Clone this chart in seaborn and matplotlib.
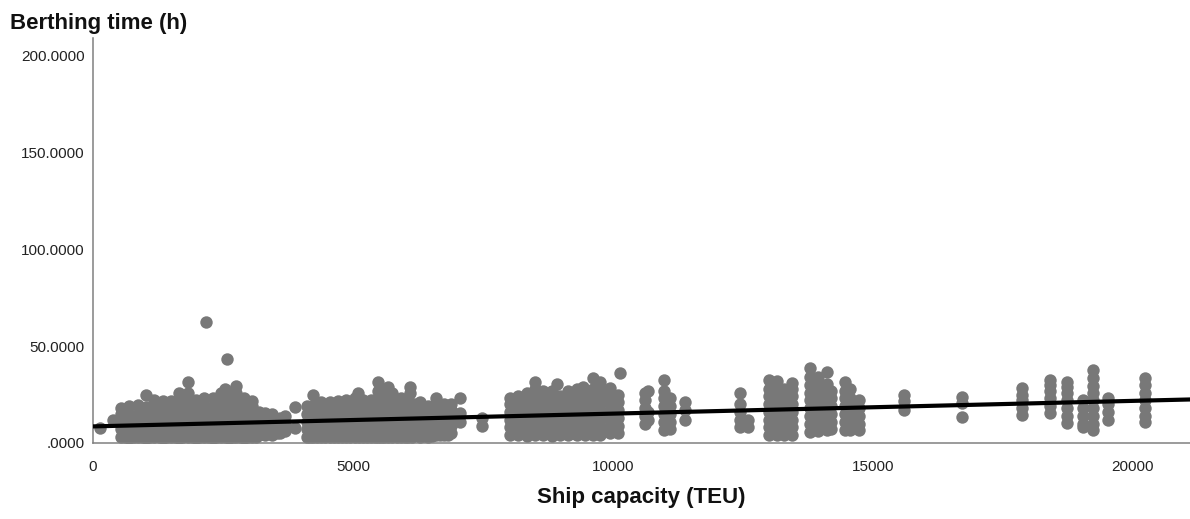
import matplotlib
matplotlib.use("Agg")
import matplotlib.pyplot as plt
from matplotlib.ticker import FuncFormatter
import pandas as pd
import seaborn as sns

# ---- data (ship capacity in TEU, berthing time in h) ----
# visible columns of points (tops / outliers / column extents)
capacity = [
    135,
    385,
    540, 540, 540, 540, 540,
    700, 700, 700, 700, 700,
    860, 860, 860, 860, 860,
    1020, 1020, 1020, 1020, 1020, 1020,
    1180, 1180, 1180, 1180, 1180, 1180,
    1340, 1340, 1340, 1340, 1340, 1340,
    1500, 1500, 1500, 1500, 1500, 1500,
    1660, 1660, 1660, 1660, 1660, 1660, 1660,
    1820, 1820, 1820, 1820, 1820, 1820, 1820, 1820,
    1980, 1980, 1980, 1980, 1980, 1980,
    2140, 2140, 2140, 2140, 2140, 2140,
    2170,
    2300, 2300, 2300, 2300, 2300, 2300,
    2460, 2460, 2460, 2460, 2460, 2460, 2460,
    2540,
    2580,
    2620, 2620, 2620, 2620, 2620, 2620, 2620,
    2750, 2750, 2750, 2750, 2750, 2750, 2750, 2750,
    2900, 2900, 2900, 2900, 2900, 2900,
    3060, 3060, 3060, 3060, 3060, 3060,
    3190, 3190, 3190, 3190,
    3300, 3300, 3300, 3300,
    3450, 3450, 3450, 3450,
    3600, 3600, 3600,
    3700, 3700, 3700,
    3880, 3880,
    4120, 4120, 4120, 4120, 4120,
    4230, 4230, 4230, 4230, 4230, 4230,
    4390, 4390, 4390, 4390, 4390, 4390,
    4550, 4550, 4550, 4550, 4550, 4550,
    4710, 4710, 4710, 4710, 4710, 4710,
    4870, 4870, 4870, 4870, 4870, 4870,
    5030, 5030, 5030, 5030, 5030, 5030,
    5100,
    5190, 5190, 5190, 5190, 5190, 5190,
    5350, 5350, 5350, 5350, 5350, 5350,
    5480, 5480, 5480, 5480, 5480, 5480, 5480, 5480,
    5600, 5600, 5600, 5600, 5600, 5600,
    5670,
    5760, 5760, 5760, 5760, 5760, 5760, 5760,
    5920, 5920, 5920, 5920, 5920, 5920,
    6060, 6060, 6060, 6060, 6060, 6060,
    6100, 6100,
    6170, 6170, 6170, 6170, 6170,
    6280, 6280, 6280, 6280, 6280, 6280,
    6440, 6440, 6440, 6440, 6440,
    6600, 6600, 6600, 6600, 6600, 6600,
    6760, 6760, 6760, 6760, 6760,
    6880, 6880, 6880, 6880, 6880,
    7060, 7060, 7060,
    7480, 7480,
    8020, 8020, 8020, 8020, 8020, 8020,
    8180, 8180, 8180, 8180, 8180, 8180,
    8340, 8340, 8340, 8340, 8340, 8340, 8340,
    8500, 8500, 8500, 8500, 8500, 8500, 8500, 8500,
    8660, 8660, 8660, 8660, 8660, 8660, 8660,
    8820, 8820, 8820, 8820, 8820, 8820, 8820,
    8920,
    8980, 8980, 8980, 8980, 8980, 8980,
    9140, 9140, 9140, 9140, 9140, 9140, 9140,
    9300, 9300, 9300, 9300, 9300, 9300, 9300,
    9420,
    9460, 9460, 9460, 9460, 9460, 9460,
    9620, 9620, 9620, 9620, 9620, 9620, 9620, 9620,
    9760, 9760, 9760, 9760, 9760, 9760, 9760, 9760,
    9950, 9950, 9950, 9950, 9950, 9950, 9950,
    10100, 10100, 10100, 10100, 10100, 10100,
    10130,
    10620, 10620, 10620, 10620, 10620,
    10680, 10680, 10680,
    10980, 10980, 10980, 10980, 10980, 10980, 10980,
    11100, 11100, 11100, 11100, 11100,
    11380, 11380, 11380,
    12440, 12440, 12440, 12440, 12440,
    12600, 12600,
    13000, 13000, 13000, 13000, 13000, 13000, 13000, 13000,
    13150, 13150, 13150, 13150, 13150, 13150, 13150, 13150,
    13300, 13300, 13300, 13300, 13300, 13300, 13300,
    13450, 13450, 13450, 13450, 13450, 13450, 13450, 13450,
    13800, 13800, 13800, 13800, 13800, 13800, 13800, 13800, 13800,
    13950, 13950, 13950, 13950, 13950, 13950, 13950, 13950,
    14110, 14110, 14110, 14110, 14110, 14110, 14110, 14110,
    14200, 14200, 14200, 14200, 14200, 14200,
    14460, 14460, 14460, 14460, 14460, 14460, 14460,
    14560, 14560, 14560, 14560, 14560, 14560,
    14740, 14740, 14740, 14740, 14740,
    15600, 15600, 15600,
    16710, 16710, 16710,
    17860, 17860, 17860, 17860, 17860,
    18400, 18400, 18400, 18400, 18400, 18400,
    18730, 18730, 18730, 18730, 18730, 18730, 18730,
    19040, 19040, 19040, 19040, 19040,
    19230, 19230, 19230, 19230, 19230, 19230, 19230, 19230, 19230,
    19520, 19520, 19520, 19520,
    20230, 20230, 20230, 20230, 20230, 20230, 20230,
]

berthing_time = [
    7.5,
    12,
    3, 7, 11, 15, 18,
    2.5, 6.5, 10.5, 14.5, 19,
    3, 7, 11, 15, 19.6,
    2.5, 6.5, 10.5, 14.5, 18.5, 24.7,
    3, 7, 11, 15, 19, 22,
    2.5, 6.5, 10.5, 14.5, 18.5, 21.6,
    3, 7, 11, 15, 19, 21.6,
    2.5, 6.5, 10.5, 14.5, 18.5, 22, 25.8,
    3, 7, 11, 15, 19, 22, 26, 31.4,
    2.5, 6.5, 10.5, 14.5, 18.5, 22,
    3, 7, 11, 15, 19, 23,
    62.4,
    2.5, 6.5, 10.5, 14.5, 18.5, 23,
    3, 7, 11, 15, 19, 22, 25.8,
    28,
    43.3,
    2.5, 6.5, 10.5, 14.5, 18.5, 22.5, 25.8,
    3, 7, 11, 15, 19, 23, 26, 29.4,
    2.5, 6.5, 10.5, 14.5, 18.5, 23,
    3, 7, 11, 15, 19, 21.6,
    4, 8, 12, 16,
    4, 8, 12, 15.5,
    4, 8, 12, 15,
    5, 9, 13,
    6, 10, 14,
    7.7, 18.6,
    3, 7, 11, 15, 19,
    3, 7, 11, 15, 19, 24.7,
    3, 7, 11, 15, 19, 21,
    3, 7, 11, 15, 19, 21,
    3, 7, 11, 15, 19, 21.5,
    3, 7, 11, 15, 19, 22,
    3, 7, 11, 15, 19, 23,
    26,
    3, 7, 11, 15, 19, 22,
    3, 7, 11, 15, 19, 22,
    3, 7, 11, 15, 19, 23, 27, 31.4,
    3, 7, 11, 15, 19, 24,
    29,
    3, 7, 11, 15, 19, 23, 25.8,
    3, 7, 11, 15, 19, 23,
    3, 7, 11, 15, 19, 22,
    26, 29,
    4, 8, 12, 16, 20,
    3, 7, 11, 15, 19, 21,
    3, 7, 11, 15, 19,
    4, 8, 12, 16, 20, 23,
    4, 8, 12, 16, 20,
    5, 9, 13, 17, 20,
    11, 15.5, 23,
    9, 13,
    4, 8, 12, 16, 20, 23,
    4, 8, 12, 16, 20, 24,
    3.5, 7.5, 11.5, 15.5, 19.5, 23.5, 26,
    4, 8, 12, 16, 20, 24, 28, 31.4,
    4, 8, 12, 16, 20, 24, 27,
    3.5, 7.5, 11.5, 15.5, 19.5, 23.5, 27,
    30.7,
    4, 8, 12, 16, 20, 24,
    4, 8, 12, 16, 20, 24, 27,
    4, 8, 12, 16, 20, 24, 28,
    29,
    4, 8, 12, 16, 20, 24,
    4, 8, 12, 16, 20, 24, 28, 33.5,
    4, 8, 12, 16, 20, 24, 28, 31.4,
    5, 9, 13, 17, 21, 25, 28.4,
    5, 9, 13, 17, 21, 25,
    36,
    10, 14, 18, 22, 26,
    12, 16, 27,
    6.7, 11, 15, 19, 23, 27, 32.5,
    7, 11, 15, 19, 23,
    12, 17, 21,
    8, 12, 16, 20, 25.8,
    8, 12,
    4, 8, 12, 16, 20, 24, 28, 32.5,
    4, 8, 12, 16, 20, 24, 28, 32,
    4, 8, 12, 16, 20, 24, 28,
    4, 8, 12, 16, 20, 24, 28, 31,
    5.7, 10, 14, 18, 22, 26, 30, 34, 38.7,
    6, 10, 14, 18, 22, 26, 30, 34,
    6.7, 10.7, 14.7, 18.7, 22.7, 26.7, 30.7, 36.6,
    7, 11, 15, 19, 23, 27,
    6.7, 11, 15, 19, 23, 27, 31.4,
    6.7, 11, 15, 19, 23, 28,
    6.7, 10, 14, 18, 22,
    17, 21.6, 24.7,
    13.4, 20.6, 23.7,
    14.4, 18, 22, 25, 28.4,
    15.5, 19, 23, 27, 30, 32.5,
    10.3, 14, 18, 22, 26, 29, 31.4,
    8.2, 10, 14, 18, 22,
    6.7, 10, 14, 18, 22, 26, 29.4, 33.5, 37.6,
    12, 16, 20, 23,
    11, 14, 18, 22, 26, 30, 33.5,
]

# dense low-lying ships hidden inside the solid grey blocks (short stays)
dense_capacity = [
    620, 620, 620, 620, 780, 780, 780, 780, 940, 940, 940, 940,
    1100, 1100, 1100, 1100, 1260, 1260, 1260, 1260, 1420, 1420, 1420, 1420,
    1580, 1580, 1580, 1580, 1740, 1740, 1740, 1740, 1900, 1900, 1900, 1900,
    2060, 2060, 2060, 2060, 2220, 2220, 2220, 2220, 2380, 2380, 2380, 2380,
    2540, 2540, 2540, 2540, 2700, 2700, 2700, 2700, 2820, 2820, 2820, 2820,
    2980, 2980, 2980, 2980, 3130, 3130, 3130, 3130,
    3380, 3380, 3530, 3530,
    4180, 4180, 4180, 4180, 4310, 4310, 4310, 4310, 4470, 4470, 4470, 4470,
    4630, 4630, 4630, 4630, 4790, 4790, 4790, 4790, 4950, 4950, 4950, 4950,
    5110, 5110, 5110, 5110, 5270, 5270, 5270, 5270, 5420, 5420, 5420, 5420,
    5540, 5540, 5540, 5540, 5680, 5680, 5680, 5680, 5840, 5840, 5840, 5840,
    6000, 6000, 6000, 6000, 6130, 6130, 6130, 6130,
    6360, 6360, 6360, 6360, 6520, 6520, 6520, 6520,
    6680, 6680, 6680, 6680, 6820, 6820, 6820, 6820,
    8100, 8100, 8260, 8260, 8420, 8420, 8580, 8580, 8740, 8740, 8900, 8900,
    9060, 9060, 9220, 9220, 9380, 9380, 9540, 9540, 9690, 9690,
]
dense_berthing = [
    3, 4.5, 6.5, 9, 3, 4.5, 6.5, 9, 3, 4.5, 6.5, 9,
    3, 4.5, 6.5, 9, 3, 4.5, 6.5, 9, 3, 4.5, 6.5, 9,
    3, 4.5, 6.5, 9, 3, 4.5, 6.5, 9, 3, 4.5, 6.5, 9,
    3, 4.5, 6.5, 9, 3, 4.5, 6.5, 9, 3, 4.5, 6.5, 9,
    3, 4.5, 6.5, 9, 3, 4.5, 6.5, 9, 3, 4.5, 6.5, 9,
    3, 4.5, 6.5, 9, 3, 4.5, 6.5, 9,
    5, 7, 5, 7,
    3, 4.5, 6.5, 9, 3, 4.5, 6.5, 9, 3, 4.5, 6.5, 9,
    3, 4.5, 6.5, 9, 3, 4.5, 6.5, 9, 3, 4.5, 6.5, 9,
    3, 4.5, 6.5, 9, 3, 4.5, 6.5, 9, 3, 4.5, 6.5, 9,
    3, 4.5, 6.5, 9, 3, 4.5, 6.5, 9, 3, 4.5, 6.5, 9,
    3, 4.5, 6.5, 9, 3, 4.5, 6.5, 9,
    3.5, 5, 7, 9.5, 3.5, 5, 7, 9.5,
    4, 5.5, 7.5, 10, 4, 5.5, 7.5, 10,
    5, 9, 5, 9, 5, 9, 5, 9, 5, 9, 5, 9,
    5, 9, 5, 9, 5, 9, 5, 9, 5, 9,
]

x_ticks = [0, 5000, 10000, 15000, 20000]
y_ticks = [0, 50, 100, 150, 200]
x_title = "Ship capacity (TEU)"
y_title = "Berthing time (h)"

assert len(capacity) == len(berthing_time)
assert len(dense_capacity) == len(dense_berthing)
df = pd.DataFrame({"capacity": capacity + dense_capacity,
                   "berthing": berthing_time + dense_berthing})

sns.set_theme(style="white")
plt.rcParams["font.family"] = ["Liberation Sans", "DejaVu Sans"]

W, H = 1190, 519
fig = plt.figure(figsize=(W / 100, H / 100), dpi=100)
ax = fig.add_axes([93 / W, 76 / H, 1097 / W, 405 / H])

XMAX, YMAX = 21100, 209
sns.scatterplot(data=df, x="capacity", y="berthing", ax=ax, color="#787878",
                s=80, linewidth=0, alpha=1, zorder=2)
ax.set_xlim(0, XMAX)
ax.set_ylim(0, YMAX)
sns.regplot(data=df, x="capacity", y="berthing", ax=ax, scatter=False, ci=None,
            truncate=False, line_kws=dict(color="black", lw=3.0, zorder=3))
ax.set_xlim(0, XMAX)
ax.set_ylim(0, YMAX)

for side in ("top", "right"):
    ax.spines[side].set_visible(False)
for side in ("left", "bottom"):
    ax.spines[side].set_color("#808080")
    ax.spines[side].set_linewidth(1.1)

ax.set_xticks(x_ticks)
ax.set_yticks(y_ticks)


def spss_fmt(v, pos):
    s = f"{v:.4f}"
    if s.startswith("0."):
        s = s[1:]
    return s


ax.yaxis.set_major_formatter(FuncFormatter(spss_fmt))
ax.xaxis.set_major_formatter(FuncFormatter(lambda v, p: f"{int(v)}"))
ax.tick_params(axis="both", length=0, labelsize=11, labelcolor="#222222")
ax.tick_params(axis="y", pad=6)
ax.tick_params(axis="x", pad=12)

ax.set_xlabel(x_title, fontsize=16, fontweight="bold", color="#111111")
ax.xaxis.set_label_coords(0.5, -(497 - 443) / 405)
ax.xaxis.label.set_va("center")
ax.set_ylabel(y_title, fontsize=16, fontweight="bold", color="#111111",
              rotation=0, ha="left", va="center")
ax.yaxis.set_label_coords((10 - 93) / 1097, (443 - 23) / 405)

fig.savefig("out.png", dpi=100)
